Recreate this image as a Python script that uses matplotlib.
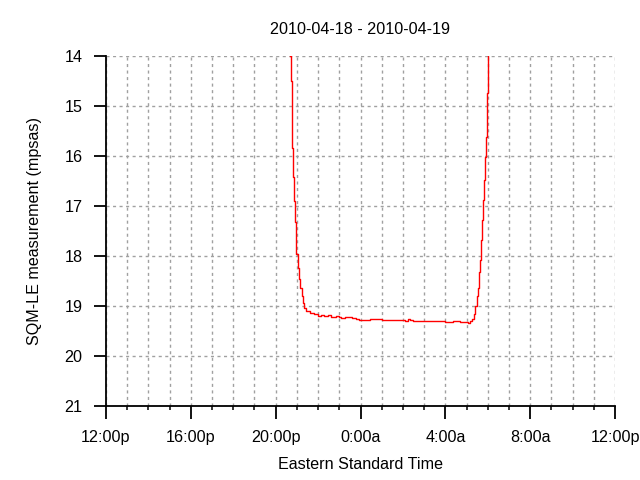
import matplotlib
matplotlib.use("Agg")
import matplotlib.pyplot as plt
from matplotlib.ticker import MultipleLocator, FixedLocator

plt.rcParams['font.family'] = ['Liberation Sans', 'DejaVu Sans']

title = "2010-04-18 - 2010-04-19"
xlabel = "Eastern Standard Time"
ylabel = "SQM-LE measurement (mpsas)"
tick_hours = [0, 4, 8, 12, 16, 20, 24]
tick_labels = ["12:00p", "16:00p", "20:00p", "0:00a", "4:00a", "8:00a", "12:00p"]

# hours since 12:00p on 2010-04-18
hours = [8.686, 8.70, 8.75, 8.78, 8.81, 8.86, 8.91, 8.94, 8.98, 9.05, 9.09, 9.16,
         9.22, 9.28, 9.35, 9.44, 9.60, 9.70, 9.83, 9.99, 10.15, 10.30, 10.46, 10.60,
         10.86, 11.00, 11.09, 11.25, 11.48, 11.60, 11.80, 11.95, 12.11, 12.25, 12.43,
         12.60, 12.90, 13.00, 13.14, 13.40, 13.69, 13.90, 14.10, 14.24, 14.35, 14.47,
         14.70, 15.10, 15.30, 15.57, 15.80, 16.00, 16.20, 16.35, 16.52, 16.70, 16.83,
         17.00, 17.07, 17.14, 17.25, 17.35, 17.41, 17.48, 17.54, 17.59, 17.63, 17.68,
         17.72, 17.77, 17.82, 17.87, 17.92, 17.95, 17.96, 17.99, 18.02]
mpsas = [14.00, 14.49, 15.20, 15.83, 16.41, 16.90, 17.32, 17.60, 17.95, 18.23, 18.45, 18.65,
         18.80, 18.93, 19.03, 19.10, 19.13, 19.14, 19.16, 19.20, 19.17, 19.20, 19.18, 19.21,
         19.20, 19.22, 19.23, 19.21, 19.22, 19.24, 19.25, 19.27, 19.28, 19.27, 19.26,
         19.25, 19.25, 19.27, 19.28, 19.27, 19.28, 19.27, 19.29, 19.26, 19.28, 19.31,
         19.29, 19.30, 19.29, 19.31, 19.30, 19.32, 19.33, 19.31, 19.31, 19.32, 19.33,
         19.32, 19.34, 19.31, 19.25, 19.16, 19.00, 18.80, 18.63, 18.33, 18.07, 17.67,
         17.27, 16.87, 16.47, 16.01, 15.61, 15.21, 14.74, 14.35, 14.00]

fig = plt.figure(figsize=(6.4, 4.8), dpi=100)
ax = fig.add_axes([106/640, 1-406/480, (615-106)/640, (406-56)/480])

ax.plot(hours, mpsas, color='red', lw=1.0, drawstyle='steps-post')

ax.set_xlim(0, 24)
ax.set_ylim(21, 14)
ax.xaxis.set_major_locator(FixedLocator(tick_hours))
ax.set_xticklabels(tick_labels)
ax.xaxis.set_minor_locator(MultipleLocator(1))
ax.yaxis.set_major_locator(MultipleLocator(1))

gridkw = dict(color='#a0a0a0', lw=1.0, linestyle=(0, (2.2, 2.5)))
ax.grid(True, which='both', axis='x', **gridkw)
ax.grid(True, which='major', axis='y', **gridkw)

for s in ['top', 'right']:
    ax.spines[s].set_visible(False)
for s in ['left', 'bottom']:
    ax.spines[s].set_linewidth(1.3)

ax.tick_params(axis='both', which='major', direction='out', length=9, width=1.3,
               labelsize=11.6, pad=8)
ax.tick_params(axis='x', which='minor', direction='out', length=3, width=1.1)

ax.set_title(title, fontsize=11.6, pad=16)
ax.set_xlabel(xlabel, fontsize=11.6, labelpad=9)
ax.set_ylabel(ylabel, fontsize=11.6, labelpad=16)

fig.savefig("out.png", dpi=100)
